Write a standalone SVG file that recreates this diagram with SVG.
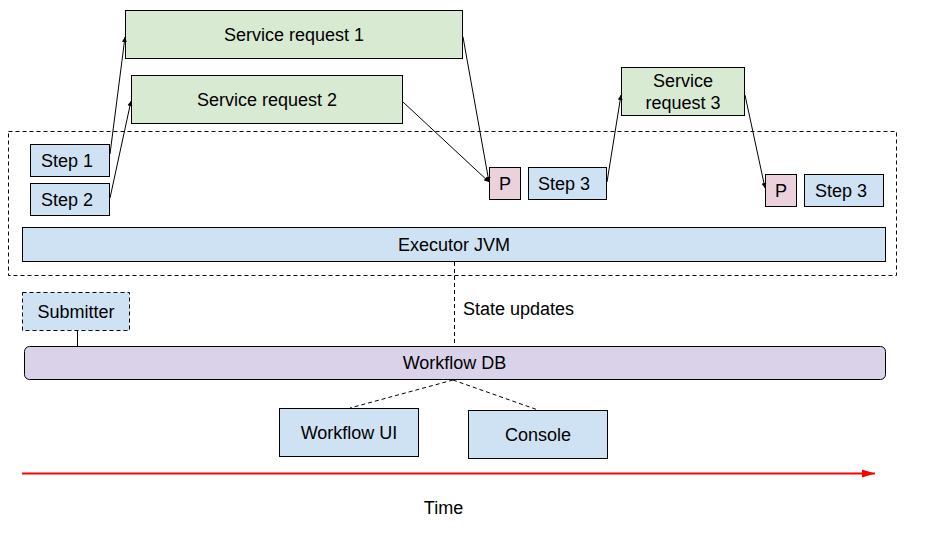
<svg xmlns="http://www.w3.org/2000/svg" width="929" height="539" viewBox="0 0 929 539">
<style>
text{font-family:"Liberation Sans",Arial,sans-serif;font-size:18px;fill:#000;text-anchor:middle}
.box{stroke:#000;stroke-width:1}
.green{fill:#d9ead3}
.blue{fill:#cfe2f3}
.pink{fill:#ead1dc}
.purple{fill:#d9d2e9}
.dash{fill:none;stroke:#000;stroke-width:1;stroke-dasharray:4 3}
.conn{fill:none;stroke:#000;stroke-width:1}
</style>
<defs>
<marker id="ah" markerWidth="6" markerHeight="6" refX="5" refY="3" orient="auto" markerUnits="userSpaceOnUse">
<path d="M0,0.5 L5,3 L0,5.5 Z" fill="#000"/>
</marker>
<marker id="red" markerWidth="14" markerHeight="10" refX="13" refY="5" orient="auto" markerUnits="userSpaceOnUse">
<path d="M0,1 L13,5 L0,9 Z" fill="#ff0000"/>
</marker>
</defs>
<rect id="executor-frame" x="8.5" y="131.5" width="888" height="144" class="dash"/>
<g id="sr1"><rect x="125.5" y="10.5" width="337" height="48" class="box green"/><text x="294" y="41">Service request 1</text></g>
<g id="sr2"><rect x="131.5" y="75.5" width="271" height="48" class="box green"/><text x="267" y="106">Service request 2</text></g>
<g id="sr3"><rect x="621.5" y="67.5" width="123" height="48" class="box green"/><text x="683" y="87">Service</text><text x="683" y="109">request 3</text></g>
<g id="step1"><rect x="30.5" y="144.5" width="79" height="32" class="box blue"/><text x="67" y="167">Step 1</text></g>
<g id="step2"><rect x="30.5" y="183.5" width="79" height="32" class="box blue"/><text x="67" y="206">Step 2</text></g>
<g id="p1"><rect x="489.5" y="167.5" width="31" height="32" class="box pink"/><text x="505" y="190">P</text></g>
<g id="step3a"><rect x="528.5" y="167.5" width="78" height="32" class="box blue"/><text x="564" y="190">Step 3</text></g>
<g id="p2"><rect x="765.5" y="174.5" width="31" height="32" class="box pink"/><text x="781" y="197">P</text></g>
<g id="step3b"><rect x="804.5" y="174.5" width="79" height="32" class="box blue"/><text x="841" y="197">Step 3</text></g>
<g id="executor"><rect x="22.5" y="227.5" width="863" height="34" class="box blue"/><text x="454" y="251">Executor JVM</text></g>
<g id="submitter"><rect x="22.5" y="292.5" width="107" height="38" class="blue" stroke="#000" stroke-width="1" stroke-dasharray="4 3"/><text x="76" y="318">Submitter</text></g>
<g id="workflow-db"><rect x="24.5" y="346.5" width="861" height="33" rx="5" class="box purple"/><text x="454.5" y="369">Workflow DB</text></g>
<g id="workflow-ui"><rect x="279.5" y="408.5" width="139" height="48" class="box blue"/><text x="349" y="439">Workflow UI</text></g>
<g id="console"><rect x="468.5" y="410.5" width="139" height="48" class="box blue"/><text x="538" y="441">Console</text></g>
<g id="state-updates-label"><text x="463" y="315" style="text-anchor:start">State updates</text></g>
<g id="time"><text x="443.5" y="514">Time</text></g>
<g id="connectors">
<line x1="110" y1="154" x2="125" y2="37" class="conn" marker-end="url(#ah)"/>
<line x1="110" y1="198" x2="131" y2="101" class="conn" marker-end="url(#ah)"/>
<line x1="463" y1="37" x2="489" y2="182" class="conn" marker-end="url(#ah)"/>
<line x1="403" y1="102" x2="489" y2="182" class="conn" marker-end="url(#ah)"/>
<line x1="607" y1="182" x2="621" y2="95" class="conn" marker-end="url(#ah)"/>
<line x1="745" y1="95" x2="765" y2="188" class="conn" marker-end="url(#ah)"/>
<line x1="77.5" y1="331" x2="77.5" y2="346" class="conn"/>
<line x1="454.5" y1="262" x2="454.5" y2="346" class="dash"/>
<line x1="453" y1="380" x2="350" y2="408" class="dash"/>
<line x1="453" y1="380" x2="538" y2="410" class="dash"/>
<line x1="22" y1="473.5" x2="875" y2="473.5" stroke="#ff0000" stroke-width="2" marker-end="url(#red)"/>
</g>
</svg>
